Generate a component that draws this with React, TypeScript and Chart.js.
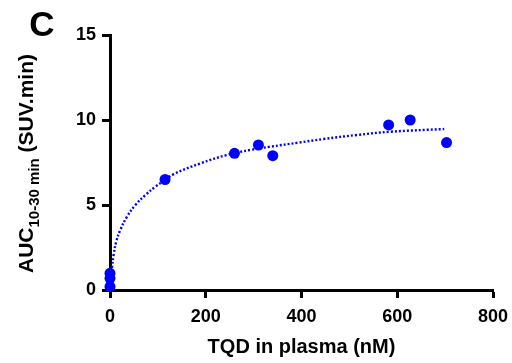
import React, { useEffect, useRef } from "react";
import { Chart, registerables } from "chart.js";

Chart.register(...registerables);

// Measured data points (TQD in plasma nM, AUC 10-30 min)
const pointX = [0, 0, 0, 115, 260, 310, 340, 582, 627, 703];
const pointY = [0.2, 0.69, 0.98, 6.5, 8.04, 8.53, 7.9, 9.71, 10.0, 8.67];

// Fitted curve
const fitX = [4, 7.5, 13, 21.5, 35.5, 53, 74, 95, 115, 133, 189, 244, 293, 335, 394, 446, 516, 586, 698];
const fitY = [1.3, 2.06, 2.84, 3.53, 4.31, 5.0, 5.59, 6.08, 6.47, 6.82, 7.45, 7.94, 8.24, 8.43, 8.67, 8.88, 9.12, 9.31, 9.47];

const xTicks = [0, 200, 400, 600, 800];
const yTicks = [0, 5, 10, 15];

const panelLabel = "C";
const xTitle = "TQD in plasma (nM)";
const yTitleMain = "AUC";
const yTitleSub = "10-30 min";
const yTitleRest = " (SUV.min)";

const FONT = "Arial, 'Liberation Sans', Helvetica, sans-serif";
const BLUE = "#0000ff";

const labelsPlugin = {
  id: "labelsPlugin",
  afterDraw(chart: any) {
    const ctx = chart.ctx as CanvasRenderingContext2D;
    const area = chart.chartArea;
    ctx.save();
    ctx.fillStyle = "#000";
    // Panel letter
    ctx.font = `bold 35px ${FONT}`;
    ctx.textAlign = "center";
    ctx.textBaseline = "alphabetic";
    ctx.fillText(panelLabel, 42, 36);

    // Y title with subscript
    const mainFont = `bold 21px ${FONT}`;
    const subFont = `bold 15px ${FONT}`;
    ctx.font = mainFont;
    const w1 = ctx.measureText(yTitleMain).width;
    const w3 = ctx.measureText(yTitleRest).width;
    ctx.font = subFont;
    const w2 = ctx.measureText(yTitleSub).width;
    const total = w1 + w2 + w3;
    const cy = (area.top + area.bottom) / 2 + 1;
    ctx.translate(33, cy);
    ctx.rotate(-Math.PI / 2);
    ctx.textAlign = "left";
    ctx.textBaseline = "alphabetic";
    let x = -total / 2;
    ctx.font = mainFont;
    ctx.fillText(yTitleMain, x, 0);
    x += w1;
    ctx.font = subFont;
    ctx.fillText(yTitleSub, x, 6);
    x += w2;
    ctx.font = mainFont;
    ctx.fillText(yTitleRest, x, 0);
    ctx.restore();
  },
};

export default function App() {
  const ref = useRef<HTMLCanvasElement | null>(null);
  useEffect(() => {
    if (!ref.current) return;
    const chart = new Chart(ref.current, {
      type: "scatter",
      data: {
        datasets: [
          {
            label: "fit",
            data: fitX.map((x, i) => ({ x, y: fitY[i] })),
            showLine: true,
            borderColor: BLUE,
            borderWidth: 2.4,
            borderDash: [2, 2],
            pointRadius: 0,
            fill: false,
            tension: 0.4,
            clip: false as any,
          },
          {
            label: "data",
            data: pointX.map((x, i) => ({ x, y: pointY[i] })),
            backgroundColor: BLUE,
            borderColor: BLUE,
            pointRadius: 5.5,
            borderWidth: 0,
            clip: false as any,
          },
        ],
      },
      options: {
        animation: false,
        responsive: true,
        maintainAspectRatio: false,
        layout: { padding: { left: 0, top: 35, right: 19, bottom: 0 } },
        plugins: {
          legend: { display: false },
          tooltip: { enabled: false },
        },
        scales: {
          x: {
            type: "linear",
            min: 0,
            max: 800,
            afterBuildTicks: (s: any) => {
              s.ticks = xTicks.map((v) => ({ value: v }));
            },
            afterFit: (s: any) => {
              s.height = 73;
              s.paddingLeft = 0;
              s.paddingRight = 0;
            },
            ticks: {
              color: "#000",
              font: { family: FONT, size: 18, weight: "bold" },
              padding: 8,
              maxRotation: 0,
            },
            grid: {
              drawOnChartArea: false,
              drawTicks: true,
              tickLength: 8,
              tickWidth: 3,
              tickColor: "#000",
            },
            border: { display: true, color: "#000", width: 3 },
            title: {
              display: true,
              text: xTitle,
              color: "#000",
              font: { family: FONT, size: 20, weight: "bold" },
              padding: { top: 0, bottom: 4 },
            },
          },
          y: {
            type: "linear",
            min: 0,
            max: 15,
            afterBuildTicks: (s: any) => {
              s.ticks = yTicks.map((v) => ({ value: v }));
            },
            afterFit: (s: any) => {
              s.width = 110;
              s.paddingTop = 0;
              s.paddingBottom = 0;
            },
            ticks: {
              color: "#000",
              font: { family: FONT, size: 18, weight: "bold" },
              padding: 6,
            },
            grid: {
              drawOnChartArea: false,
              drawTicks: true,
              tickLength: 8,
              tickWidth: 3,
              tickColor: "#000",
            },
            border: { display: true, color: "#000", width: 3 },
          },
        },
      },
      plugins: [labelsPlugin],
    });
    return () => chart.destroy();
  }, []);
  return (
    <div style={{ position: "absolute", left: 0, top: 0, width: 512, height: 363, background: "#fff" }}>
      <canvas ref={ref} />
    </div>
  );
}
